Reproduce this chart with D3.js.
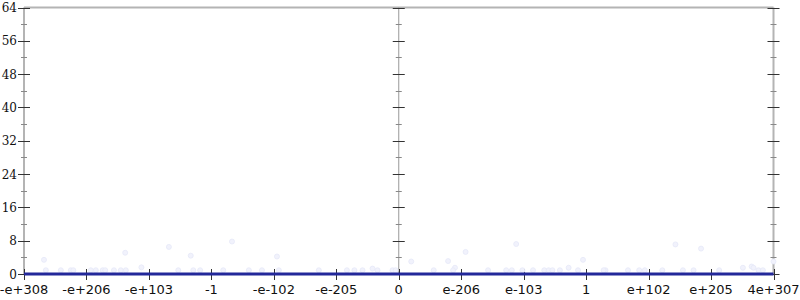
<!DOCTYPE html>
<html>
<head>
<meta charset="utf-8">
<script src="https://cdn.jsdelivr.net/npm/d3@7"></script>
<style>
  html, body { margin: 0; padding: 0; background: #fff; }
  svg text { fill: #111; }
  .ylab { font-family: "DejaVu Serif", serif; font-size: 12px; }
  .xlab { font-family: "DejaVu Sans", sans-serif; font-size: 13px; }
</style>
</head>
<body>
<svg id="chart" width="800" height="300"></svg>
<script>
// tick labels along x (positions 0..12 on an index scale)
const xTickLabels = ["-e+308", "-e+206", "-e+103", "-1", "-e-102", "-e-205", "0",
                     "e-206", "e-103", "1", "e+102", "e+205", "4e+307"];
const yTicks = [0, 8, 16, 24, 32, 40, 48, 56, 64];
const yMinorTicks = [4, 12, 20, 28, 36, 44, 52, 60];

// main series (flat along zero)
const lineX = [0, 12];
const lineY = [0, 0];

// faint scattered samples, x in tick-index units
const dotX = [0.32, 0.35, 0.59, 0.75, 0.79, 1.07, 1.15, 1.26, 1.3, 1.44, 1.55, 1.63, 1.62, 1.88,
              2.32, 2.47, 2.67, 2.71, 2.82, 3.33, 3.19, 3.6, 3.81, 4.05, 4.08, 4.72, 5.17,
              5.29, 5.42, 5.58, 5.66, 5.9, 5.95, 6.2, 6.56, 6.79, 6.9, 6.87, 7.07, 7.43,
              7.72, 7.81, 7.88, 7.98, 8.15, 8.33, 8.4, 8.46, 8.58, 8.72, 8.87, 8.95, 9.31,
              9.28, 9.67, 9.85, 9.94, 10.22, 10.43, 10.55, 10.72, 10.84, 11.13, 11.51, 11.65,
              11.68, 11.76, 11.83, 12.0];
const dotY = [3.4, 0.9, 0.9, 0.9, 0.9, 0.9, 0.9, 0.9, 0.9, 0.9, 0.9, 0.9, 5.1, 1.6,
              6.5, 0.9, 4.4, 0.9, 0.9, 7.8, 0.9, 0.9, 0.9, 4.2, 0.9, 0.9, 0.9,
              0.9, 0.9, 1.3, 0.9, 0.9, 0.9, 3.0, 0.9, 3.1, 1.5, 0.9, 5.3, 0.9,
              0.9, 0.9, 7.2, 0.9, 0.9, 0.9, 0.9, 0.9, 0.9, 1.5, 0.9, 3.4, 0.9,
              0.9, 0.9, 0.9, 0.9, 0.9, 7.1, 0.9, 0.9, 6.1, 0.9, 1.5, 1.8,
              1.5, 0.9, 0.9, 3.0];

const svg = d3.select("#chart");
const x = d3.scaleLinear().domain([0, 12]).range([24, 773.5]);
const y = d3.scaleLinear().domain([0, 64]).range([274, 7.5]);

// frame: top border
svg.append("line")
  .attr("x1", x(0)).attr("x2", x(12))
  .attr("y1", y(64)).attr("y2", y(64))
  .attr("stroke", "#b4b4b4").attr("stroke-width", 2);

// vertical axes at left, middle and right
const axesAt = [0, 6, 12];
axesAt.forEach((a) => {
  const xp = x(a);
  svg.append("line")
    .attr("x1", xp).attr("x2", xp)
    .attr("y1", y(64)).attr("y2", y(0))
    .attr("stroke", a === 6 ? "#999" : "#b4b4b4")
    .attr("stroke-width", a === 6 ? 1 : 2);

  svg.selectAll(null).data(yMinorTicks).enter().append("line")
    .attr("x1", xp - 3).attr("x2", xp + 3)
    .attr("y1", d => Math.round(y(d)) + 0.5).attr("y2", d => Math.round(y(d)) + 0.5)
    .attr("stroke", "#888").attr("stroke-width", 1);

  svg.selectAll(null).data(yTicks).enter().append("line")
    .attr("x1", xp - 6).attr("x2", xp + 6)
    .attr("y1", d => Math.round(y(d)) + 0.5).attr("y2", d => Math.round(y(d)) + 0.5)
    .attr("stroke", "#333").attr("stroke-width", 1);
});

// y labels
svg.selectAll(null).data(yTicks).enter().append("text")
  .attr("class", "ylab")
  .attr("x", 17)
  .attr("y", d => y(d) + 4.5)
  .attr("text-anchor", "end")
  .text(d => d);

// x ticks and labels
const xIdx = d3.range(xTickLabels.length);
svg.selectAll(null).data(xIdx).enter().append("line")
  .attr("x1", d => Math.round(x(d)) + 0.5).attr("x2", d => Math.round(x(d)) + 0.5)
  .attr("y1", y(0) - 5).attr("y2", y(0) + 6)
  .attr("stroke", "#333").attr("stroke-width", 1);

svg.selectAll(null).data(xIdx).enter().append("text")
  .attr("class", "xlab")
  .attr("x", d => x(d))
  .attr("y", 294)
  .attr("text-anchor", "middle")
  .text(d => xTickLabels[d]);

// faint samples
svg.selectAll(null).data(dotX).enter().append("circle")
  .attr("cx", d => x(d))
  .attr("cy", (d, i) => y(dotY[i]))
  .attr("r", 2.5)
  .attr("fill", "#f1f2fc")
  .attr("stroke", "#e6e8f8")
  .attr("stroke-width", 0.8);

// main line
const line = d3.line().x(d => x(d[0])).y(d => y(d[1]));
svg.append("path")
  .datum(lineX.map((v, i) => [v, lineY[i]]))
  .attr("d", line)
  .attr("fill", "none")
  .attr("stroke", "#23289a")
  .attr("stroke-width", 3);
</script>
</body>
</html>
